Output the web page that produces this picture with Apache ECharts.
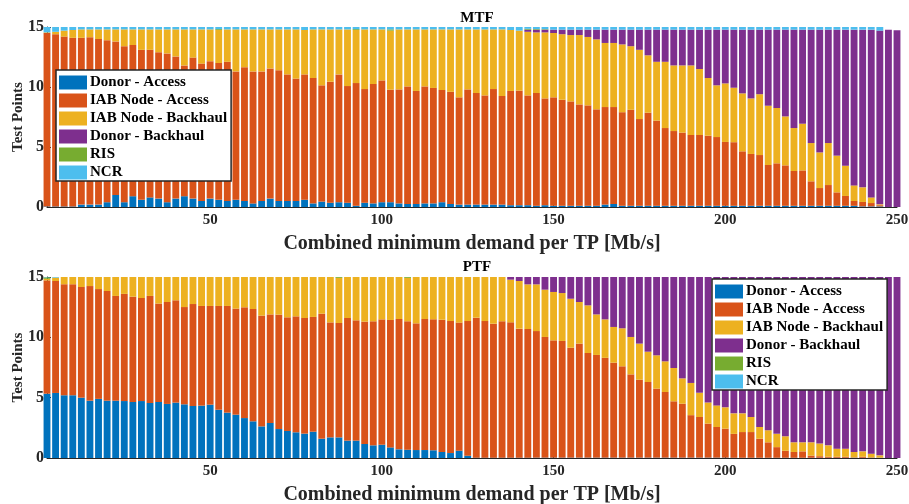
<!DOCTYPE html>
<html>
<head>
<meta charset="utf-8">
<script src="https://cdn.jsdelivr.net/npm/echarts@6/dist/echarts.min.js"></script>
<style>html,body{margin:0;padding:0;background:#fff}#c{width:909px;height:504px}</style>
</head>
<body>
<div id="c"></div>
<script>
// x categories: combined minimum demand per TP [Mb/s]
const xCats = [2.5,5,7.5,10,12.5,15,17.5,20,22.5,25,27.5,30,32.5,35,37.5,40,42.5,45,47.5,50,
52.5,55,57.5,60,62.5,65,67.5,70,72.5,75,77.5,80,82.5,85,87.5,90,92.5,95,97.5,100,
102.5,105,107.5,110,112.5,115,117.5,120,122.5,125,127.5,130,132.5,135,137.5,140,142.5,145,147.5,150,
152.5,155,157.5,160,162.5,165,167.5,170,172.5,175,177.5,180,182.5,185,187.5,190,192.5,195,197.5,200,
202.5,205,207.5,210,212.5,215,217.5,220,222.5,225,227.5,230,232.5,235,237.5,240,242.5,245,247.5,250];
const xTickLabels = [50,100,150,200,250];
const yTicks = [0,5,10,15];
const seriesNames = ['Donor - Access','IAB Node - Access','IAB Node - Backhaul','Donor - Backhaul','RIS','NCR'];
const colors = ['#0072BD','#D95319','#EDB120','#7E2F8E','#77AC30','#4DBEEE'];

// Cumulative top of each stacked segment (MTF)
const mtfDonorAccessTop = [0.05,0.05,0.05,0.05,0.2,0.2,0.2,0.4,1.0,0.4,
0.9,0.6,0.8,0.7,0.4,0.7,0.9,0.7,0.5,0.7,
0.6,0.5,0.6,0.5,0.3,0.5,0.7,0.5,0.5,0.5,
0.6,0.3,0.45,0.35,0.4,0.35,0.1,0.35,0.3,0.4,
0.4,0.3,0.25,0.25,0.3,0.3,0.4,0.25,0.2,0.2,
0.2,0.2,0.2,0.2,0.15,0.15,0.15,0.1,0.15,0.1,
0.1,0.1,0.1,0.1,0.1,0.2,0.25,0.1,0.1,0.1,
0.1,0.1,0.1,0.1,0.1,0.1,0.1,0.1,0.1,0.1,
0.1,0.1,0.1,0.1,0.1,0.1,0.1,0.1,0.1,0.1,
0.1,0.1,0.1,0.1,0.1,0.05,0.05,0.05,0,0];
const mtfIabAccessTop = [14.5,14.4,14.2,14.1,14.1,14.15,14.0,13.9,13.8,13.4,
13.5,13.1,13.1,12.9,12.8,12.55,11.8,12.45,11.95,12.15,
12.0,12.1,11.3,11.65,11.3,11.3,11.55,11.4,11.05,10.7,
11.05,10.75,10.14,10.44,11.05,10.08,10.33,9.83,10.25,10.55,
9.78,9.8,10.05,9.67,10.05,9.92,9.75,9.6,9.14,9.8,
9.5,9.3,9.83,9.25,9.67,9.7,9.3,9.5,9.05,9.14,
8.94,8.8,8.55,8.47,8.14,8.33,8.33,7.9,8.1,7.33,
7.86,7.2,6.58,6.33,6.2,6.0,6.0,5.94,5.83,5.42,
5.4,4.64,4.42,4.33,3.5,3.64,3.47,3.0,3.05,2.14,
1.58,1.83,1.22,0.92,0.5,0.42,0.33,0.15,0,0];
const mtfIabBackhaulTop = [14.55,14.6,14.7,14.75,14.8,14.8,14.8,14.8,14.8,14.8,
14.8,14.8,14.8,14.8,14.8,14.8,14.8,14.8,14.8,14.8,
14.75,14.8,14.8,14.8,14.8,14.8,14.8,14.8,14.8,14.8,
14.75,14.8,14.8,14.8,14.8,14.8,14.75,14.8,14.8,14.8,
14.7,14.8,14.8,14.8,14.8,14.8,14.8,14.8,14.8,14.8,
14.8,14.8,14.8,14.8,14.75,14.7,14.6,14.55,14.55,14.5,
14.4,14.33,14.33,14.17,13.97,13.67,13.67,13.55,13.4,13.1,
12.64,12.1,12.1,11.8,11.8,11.8,11.5,10.75,10.14,10.3,
9.94,9.47,9.05,9.4,8.44,8.25,7.55,6.58,6.94,5.33,
4.55,5.33,4.28,3.44,1.8,1.64,0.8,0.22,0,0];
const mtfDonorBackhaulTop = [14.55,14.6,14.7,14.75,14.8,14.8,14.8,14.8,14.8,14.8,
14.8,14.8,14.8,14.8,14.8,14.8,14.8,14.8,14.8,14.8,
14.75,14.8,14.8,14.8,14.8,14.8,14.8,14.8,14.8,14.8,
14.75,14.8,14.8,14.8,14.8,14.8,14.75,14.8,14.8,14.8,
14.7,14.8,14.8,14.8,14.8,14.8,14.8,14.8,14.8,14.8,
14.8,14.8,14.8,14.8,14.75,14.7,14.78,14.78,14.78,14.78,
14.78,14.78,14.78,14.78,14.78,14.78,14.78,14.78,14.78,14.78,
14.78,14.78,14.78,14.78,14.78,14.78,14.78,14.78,14.78,14.78,
14.78,14.78,14.78,14.78,14.78,14.78,14.78,14.78,14.78,14.78,
14.78,14.78,14.78,14.78,14.78,14.78,14.78,14.7,14.78,14.72];
const mtfRisTop = [14.55,14.6,14.7,14.75,14.8,14.8,14.8,14.8,14.8,14.8,
14.8,14.8,14.8,14.8,14.8,14.8,14.8,14.8,14.8,14.8,
14.82,14.8,14.8,14.8,14.8,14.8,14.8,14.8,14.8,14.8,
14.75,14.8,14.8,14.8,14.8,14.8,14.82,14.8,14.8,14.8,
14.8,14.8,14.8,14.8,14.8,14.8,14.8,14.8,14.8,14.8,
14.8,14.8,14.8,14.8,14.75,14.7,14.85,14.83,14.82,14.78,
14.78,14.78,14.78,14.78,14.78,14.78,14.78,14.78,14.78,14.78,
14.78,14.78,14.78,14.78,14.78,14.78,14.78,14.78,14.78,14.78,
14.78,14.78,14.78,14.78,14.78,14.78,14.78,14.78,14.78,14.78,
14.78,14.78,14.78,14.78,14.78,14.78,14.78,14.7,14.78,14.72];
const mtfNcrTop = [15,15,15,15,15,15,15,15,15,15,
15,15,15,15,15,15,15,15,15,15,
15,15,15,15,15,15,15,15,15,15,
15,15,15,15,15,15,15,15,15,15,
15,15,15,15,15,15,15,15,15,15,
15,15,15,15,15,15,15,15,15,15,
15,15,15,15,15,15,15,15,15,15,
15,15,15,15,15,15,15,15,15,15,
15,15,15,15,15,15,15,15,15,15,
15,15,15,15,15,15,15,15,14.78,14.72];

// Cumulative top of each stacked segment (PTF)
const ptfDonorAccessTop = [5.33,5.39,5.2,5.2,5.0,4.75,4.9,4.75,4.75,4.72,
4.64,4.72,4.56,4.64,4.48,4.59,4.45,4.31,4.34,4.42,
4.0,3.76,3.59,3.31,3.04,2.62,2.9,2.4,2.24,2.13,
2.02,2.18,1.6,1.71,1.71,1.44,1.44,1.16,1.05,1.1,
0.88,0.72,0.69,0.66,0.66,0.64,0.5,0.41,0.61,0.19,
0.03,0.03,0.03,0.03,0.03,0.03,0.03,0.03,0.03,0.03,
0.03,0.03,0.03,0.03,0.03,0.03,0.03,0.03,0.03,0.03,
0.03,0.03,0.03,0.03,0.03,0.03,0.03,0.03,0.03,0.03,
0.02,0.02,0.02,0.02,0.02,0.02,0.02,0.02,0.02,0.02,
0.02,0.02,0.02,0.02,0.02,0.02,0.02,0.02,0,0];
const ptfIabAccessTop = [14.72,14.67,14.4,14.4,14.17,14.25,14.0,13.84,13.43,13.6,
13.37,13.26,13.43,12.8,12.93,13.07,12.51,12.76,12.6,12.6,
12.6,12.6,12.38,12.49,12.35,11.8,11.9,11.88,11.66,11.74,
11.6,11.69,11.96,11.24,11.19,11.6,11.41,11.3,11.33,11.49,
11.44,11.52,11.33,11.16,11.52,11.49,11.46,11.35,11.22,11.35,
11.63,11.35,11.13,11.33,11.24,10.72,10.69,10.52,10.03,9.75,
9.7,9.14,9.48,8.7,8.54,8.3,7.9,7.6,6.93,6.49,
6.3,5.75,5.47,4.7,4.5,3.55,3.4,2.85,2.57,2.43,
2.0,2.15,2.15,1.6,1.3,0.9,0.6,0.5,0.55,0.2,
0.15,0.1,0.1,0.1,0.05,0.1,0.05,0.03,0,0];
const ptfIabBackhaulTop = [14.85,14.95,15,15,15,15,15,15,15,15,
15,15,15,15,15,15,15,15,15,15,
15,15,15,15,15,15,15,15,15,15,
15,15,15,15,14.93,15,15,15,15,15,
15,15,14.93,15,15,15,15,15,15,15,
15,15,15,15,14.78,14.67,14.39,14.39,13.95,13.76,
13.67,13.2,12.93,12.65,11.9,11.49,10.86,10.75,10.03,9.48,
8.81,8.51,8.01,7.46,6.6,6.22,5.41,4.6,4.36,4.2,
3.7,3.7,3.4,2.57,2.3,2.0,1.8,1.3,1.3,1.3,
1.2,1.05,0.77,0.77,0.5,0.55,0.36,0.22,0,0];
const ptfDonorBackhaulTop = [14.85,14.95,15,15,15,15,15,15,15,15,
15,15,15,15,15,15,15,15,15,15,
15,15,15,15,15,15,15,15,15,15,
15,15,15,15,14.93,15,15,15,15,15,
15,15,14.93,15,15,15,15,15,15,15,
15,15,15,15,15,15,15,15,15,15,
15,15,15,15,15,15,15,15,15,15,
15,15,15,15,15,15,15,15,15,15,
15,15,15,15,15,15,15,15,15,15,
15,15,15,15,15,15,15,15,15,15];
const ptfRisTop = [14.97,14.95,15,15,15,15,15,15,15,15,
15,15,15,15,15,15,15,15,15,15,
15,15,15,15,15,15,15,15,15,15,
15,15,15,15,15,15,15,15,15,15,
15,15,15,15,15,15,15,15,15,15,
15,15,15,15,15,15,15,15,15,15,
15,15,15,15,15,15,15,15,15,15,
15,15,15,15,15,15,15,15,15,15,
15,15,15,15,15,15,15,15,15,15,
15,15,15,15,15,15,15,15,15,15];
const ptfNcrTop = [15,15,15,15,15,15,15,15,15,15,
15,15,15,15,15,15,15,15,15,15,
15,15,15,15,15,15,15,15,15,15,
15,15,15,15,15,15,15,15,15,15,
15,15,15,15,15,15,15,15,15,15,
15,15,15,15,15,15,15,15,15,15,
15,15,15,15,15,15,15,15,15,15,
15,15,15,15,15,15,15,15,15,15,
15,15,15,15,15,15,15,15,15,15,
15,15,15,15,15,15,15,15,15,15];

// convert cumulative tops into segment heights for stacking
function segments(tops) {
  return tops.map((arr, k) => arr.map((v, i) => {
    const below = k ? tops[k - 1][i] : 0;
    return Math.max(0, +(v - below).toFixed(3));
  }));
}
const mtfSegs = segments([mtfDonorAccessTop, mtfIabAccessTop, mtfIabBackhaulTop, mtfDonorBackhaulTop, mtfRisTop, mtfNcrTop]);
const ptfSegs = segments([ptfDonorAccessTop, ptfIabAccessTop, ptfIabBackhaulTop, ptfDonorBackhaulTop, ptfRisTop, ptfNcrTop]);

const FONT = "'Liberation Serif','Times New Roman',serif";
const TXT = '#262626';
const showTick = (idx, val) => xTickLabels.indexOf(Number(val)) >= 0;

function xAxis(gi) {
  return {
    type: 'category', gridIndex: gi, data: xCats, boundaryGap: false,
    name: 'Combined minimum demand per TP [Mb/s]', nameLocation: 'middle', nameGap: 27,
    nameMoveOverlap: false,
    nameTextStyle: {fontFamily: FONT, fontWeight: 'bold', fontSize: 20, color: TXT},
    axisLine: {show: true, lineStyle: {color: TXT, width: 1}},
    axisTick: {show: true, inside: true, length: 4, interval: showTick, lineStyle: {color: TXT}},
    axisLabel: {interval: showTick, fontFamily: FONT, fontWeight: 'bold', fontSize: 15, color: TXT, margin: 6},
    splitLine: {show: false}
  };
}
function yAxis(gi) {
  return {
    type: 'value', gridIndex: gi, min: 0, max: 15, interval: 5,
    name: 'Test Points', nameLocation: 'middle', nameGap: 21, nameMoveOverlap: false,
    nameTextStyle: {fontFamily: FONT, fontWeight: 'bold', fontSize: 15, color: TXT},
    axisLine: {show: true, lineStyle: {color: TXT, width: 1}},
    axisTick: {show: true, inside: true, length: 4, lineStyle: {color: TXT}},
    axisLabel: {fontFamily: FONT, fontWeight: 'bold', fontSize: 16, color: TXT, margin: 3,
      formatter: v => yTicks.indexOf(v) >= 0 ? String(v) : ''},
    splitLine: {show: false}
  };
}
function legend(left, top) {
  return {
    left: left, top: top, orient: 'vertical', data: seriesNames, icon: 'rect',
    itemWidth: 28, itemHeight: 14, itemGap: 3, padding: [5, 4, 1, 3],
    backgroundColor: '#fff', borderColor: TXT, borderWidth: 1.5, borderRadius: 0,
    selectedMode: false,
    textStyle: {fontFamily: FONT, fontWeight: 'bold', fontSize: 15, color: '#000', padding: [0, 0, 0, -2]}
  };
}
const series = [];
[mtfSegs, ptfSegs].forEach((segs, gi) => {
  segs.forEach((data, k) => {
    series.push({
      type: 'bar', name: seriesNames[k], stack: 'g' + gi,
      xAxisIndex: gi, yAxisIndex: gi, data: data,
      barCategoryGap: '20%', clip: true,
      itemStyle: {color: colors[k]},
      emphasis: {disabled: true}
    });
  });
});

const chart = echarts.init(document.getElementById('c'), null, {renderer: 'canvas'});
chart.setOption({
  animation: false,
  backgroundColor: '#fff',
  color: colors,
  title: [
    {text: 'MTF', left: 472, top: 6, textAlign: 'center', textStyle: {fontFamily: FONT, fontWeight: 'bold', fontSize: 15, color: '#000'}},
    {text: 'PTF', left: 472, top: 255, textAlign: 'center', textStyle: {fontFamily: FONT, fontWeight: 'bold', fontSize: 15, color: '#000'}}
  ],
  grid: [
    {left: 47, right: 12, top: 27, height: 180, containLabel: false, outerBoundsMode: 'none'},
    {left: 47, right: 12, top: 277, height: 181, containLabel: false, outerBoundsMode: 'none'}
  ],
  legend: [legend(56, 70), legend(712, 279)],
  xAxis: [xAxis(0), xAxis(1)],
  yAxis: [yAxis(0), yAxis(1)],
  series: series
});
</script>
</body>
</html>
